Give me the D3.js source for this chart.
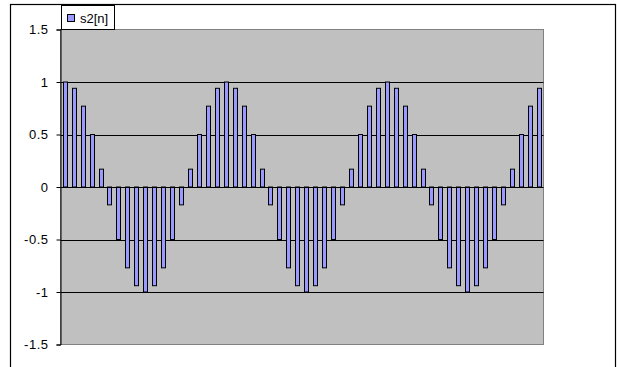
<!DOCTYPE html>
<html>
<head>
<meta charset="utf-8">
<script src="https://cdn.jsdelivr.net/npm/d3@7"></script>
<style>
  html, body { margin: 0; padding: 0; background: #fff; }
  svg { display: block; }
  text { font-family: Arial, "Liberation Sans", sans-serif; }
</style>
</head>
<body>
<svg id="chart" width="617" height="367"></svg>
<script>
// ---- data ----
const seriesName = "s2[n]";
const values = [
  1, 0.94, 0.77, 0.5, 0.17, -0.17, -0.5, -0.77, -0.94, -1, -0.94, -0.77, -0.5, -0.17, 0.17, 0.5, 0.77, 0.94,
  1, 0.94, 0.77, 0.5, 0.17, -0.17, -0.5, -0.77, -0.94, -1, -0.94, -0.77, -0.5, -0.17, 0.17, 0.5, 0.77, 0.94,
  1, 0.94, 0.77, 0.5, 0.17, -0.17, -0.5, -0.77, -0.94, -1, -0.94, -0.77, -0.5, -0.17, 0.17, 0.5, 0.77, 0.94
];
const categories = values.map((v, i) => i);
const yTicks = [-1.5, -1, -0.5, 0, 0.5, 1, 1.5];
const yTickLabels = ["-1.5", "-1", "-0.5", "0", "0.5", "1", "1.5"];

// ---- layout ----
const svg = d3.select("#chart");
const plot = { left: 60.5, right: 543.5, top: 29.5, bottom: 344.5 };

// outer chart border
svg.append("rect")
  .attr("x", 10.5).attr("y", 4.5)
  .attr("width", 605).attr("height", 380)
  .attr("fill", "#fff").attr("stroke", "#000").attr("stroke-width", 1.2);

const x = d3.scaleBand().domain(categories)
  .range([plot.left, plot.right]).paddingInner(0.5).paddingOuter(0.25);
const y = d3.scaleLinear().domain([-1.5, 1.5]).range([plot.bottom, plot.top]);

// plot area
svg.append("rect")
  .attr("x", plot.left).attr("y", plot.top)
  .attr("width", plot.right - plot.left).attr("height", plot.bottom - plot.top)
  .attr("fill", "#C0C0C0").attr("stroke", "#808080").attr("stroke-width", 1);

// gridlines
svg.append("g").selectAll("line")
  .data(yTicks.filter(t => t !== 1.5 && t !== -1.5 && t !== 0))
  .join("line")
  .attr("x1", plot.left).attr("x2", plot.right)
  .attr("y1", d => Math.round(y(d)) + 0.5).attr("y2", d => Math.round(y(d)) + 0.5)
  .attr("stroke", "#000").attr("stroke-width", 1);

// bars
const y0 = y(0);
svg.append("g").selectAll("rect")
  .data(values)
  .join("rect")
  .attr("x", (d, i) => Math.round(x(categories[i])) + 0.5)
  .attr("width", Math.round(x.bandwidth()))
  .attr("y", d => Math.min(y(d), y0))
  .attr("height", d => Math.abs(y(d) - y0))
  .attr("fill", "#9999FF").attr("stroke", "#000").attr("stroke-width", 1);

// x axis line at 0
svg.append("line")
  .attr("x1", plot.left).attr("x2", plot.right)
  .attr("y1", Math.round(y0) + 0.5).attr("y2", Math.round(y0) + 0.5)
  .attr("stroke", "#000").attr("stroke-width", 1);

// y axis
const yAxis = d3.axisLeft(y).tickValues(yTicks)
  .tickFormat((d, i) => yTickLabels[i]).tickSize(4).tickPadding(8);
const gy = svg.append("g").attr("transform", `translate(${plot.left},0)`).call(yAxis);
gy.select(".domain").attr("stroke", "#000");
gy.selectAll(".tick line").attr("stroke", "#000");
gy.selectAll(".tick text")
  .attr("font-size", 13).attr("fill", "#000")
  .attr("letter-spacing", "0.5px")
  .attr("font-family", "Arial, 'Liberation Sans', sans-serif");

// legend
const lg = svg.append("g");
lg.append("rect").attr("x", 61.5).attr("y", 5.5).attr("width", 53).attr("height", 24)
  .attr("fill", "#fff").attr("stroke", "#000").attr("stroke-width", 1);
lg.append("rect").attr("x", 67.5).attr("y", 14.5).attr("width", 7).attr("height", 7)
  .attr("fill", "#9999FF").attr("stroke", "#000").attr("stroke-width", 1);
lg.append("text").attr("x", 80).attr("y", 23).attr("font-size", 13)
  .attr("fill", "#000").text(seriesName);
</script>
</body>
</html>
